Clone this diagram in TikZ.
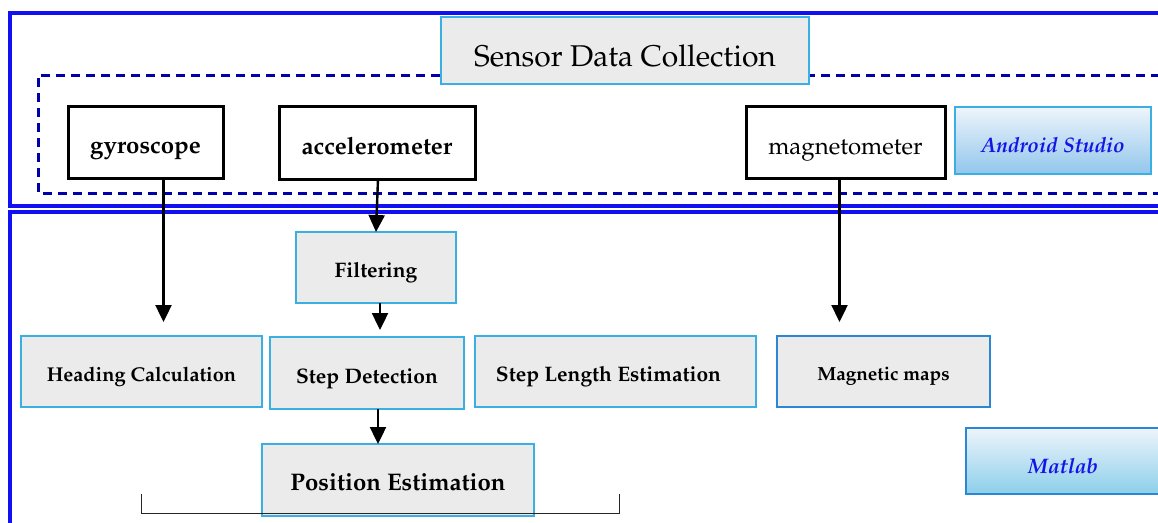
\documentclass[tikz,border=0pt]{standalone}
\usepackage[T1]{fontenc}
\usepackage{mathpazo}
\usetikzlibrary{arrows.meta,calc}

\definecolor{frameblue}{HTML}{1010F2}
\definecolor{dashblue}{HTML}{0000A8}
\definecolor{edgecyan}{HTML}{3AB0E2}
\definecolor{edgeblue}{HTML}{2C86D6}
\definecolor{boxgray}{HTML}{EBEBEB}
\definecolor{toolblue}{HTML}{1414E6}
\definecolor{shadetop}{HTML}{EEF4FB}
\definecolor{shadebot}{HTML}{92C6EC}
\definecolor{shadebotb}{HTML}{8CCFEA}

\tikzset{
  % puts the text baseline #1 below the middle of the box
  txtdrop/.style={text depth=0pt, text height=2*#1},
  fs/.style={font=\fontsize{#1}{#1}\selectfont},
  fsb/.style={font=\bfseries\fontsize{#1}{#1}\selectfont},
  graybox/.style={draw=edgecyan, line width=1.6pt, fill=boxgray, inner sep=0pt, outer sep=0pt, anchor=north west, fsb=20, txtdrop=10pt},
  sensorbox/.style={draw=black, line width=3pt, fill=white, inner sep=0pt, outer sep=0pt, anchor=north west, fs=24, txtdrop=12pt},
  toolbox/.style={draw=edgecyan, line width=1.6pt, top color=shadetop, bottom color=shadebot, inner sep=0pt, outer sep=0pt, anchor=north west, text=toolblue, font=\bfseries\itshape\fontsize{21}{21}\selectfont, txtdrop=12pt},
  arr/.style={-{Triangle[width=16pt,length=17pt]}, line width=2.4pt, black},
  frame/.style={draw=frameblue, line width=3.2pt},
}

\begin{document}
\begin{tikzpicture}[x=1pt, y=-1pt]
\useasboundingbox (0,0) rectangle (1158,522);

% outer frames
\draw[frame] (1175,13) -- (10,13) -- (10,206) -- (1175,206);
\draw[frame] (1175,212) -- (10,212) -- (10,540);

% sensor group
\draw[dashblue, line width=3pt, dash pattern=on 9pt off 6pt] (1175,75) -- (38,75) -- (38,193) -- (1175,193);

\node[graybox, fs=30, txtdrop=16pt, minimum width=368pt, minimum height=67pt] (sdc) at (441,17) {Sensor Data Collection};

\node[sensorbox, fsb=24, txtdrop=11pt, minimum width=155pt, minimum height=72pt] (gyro) at (68,106) {gyroscope};
\node[sensorbox, fsb=24, minimum width=196pt, minimum height=73pt] (acc) at (279,106) {accelerometer};
\node[sensorbox, minimum width=199pt, minimum height=72pt] (mag) at (746,106) {magnetometer};

\node[toolbox, minimum width=196pt, minimum height=67pt] (android) at (955,107) {Android Studio};

% processing stages
\node[graybox, fsb=21, minimum width=160pt, minimum height=71pt] (filt) at (296,232) {Filtering};
\node[graybox, minimum width=241pt, minimum height=71pt] (head) at (21,336) {Heading Calculation};
\node[graybox, fsb=21, minimum width=194pt, minimum height=72pt] (stepdet) at (270,337) {Step Detection};
\node[graybox, fsb=21, minimum width=281pt, minimum height=71pt] (steplen) at (475,336) {Step Length Estimation\hspace*{14pt}};
\node[graybox, draw=edgeblue, fsb=19, txtdrop=9pt, minimum width=213pt, minimum height=71pt] (magmap) at (777,336) {Magnetic maps};
\node[graybox, fsb=24, minimum width=272pt, minimum height=72pt] (pos) at (262,444) {Position Estimation};

\node[toolbox, draw=edgeblue, top color=shadetop, bottom color=shadebotb, minimum width=194pt, minimum height=66pt] (matlab) at (966,428) {Matlab};

% connectors
\draw[arr] ([xshift=18pt]gyro.south) coordinate (g0) -- ($(g0 |- head.north)+(0,-14)$);
\draw[arr] ([xshift=1pt]acc.south) -- (filt.north);
\draw[arr] ([xshift=4pt]filt.south) coordinate (f0) -- ($(f0 |- stepdet.north)+(0,-7)$);
\draw[arr] ([xshift=11pt]stepdet.south) coordinate (s0) -- (s0 |- pos.north);
\draw[arr] ([xshift=-6pt]mag.south) coordinate (m0) -- ($(m0 |- magmap.north)+(0,-14)$);

% bracket under the estimation stage
\coordinate (bl) at (141,494);
\coordinate (br) at (619,494);
\draw[line width=1pt, black!85] (bl) -- ++(0,19) -| (br);
\end{tikzpicture}
\end{document}
